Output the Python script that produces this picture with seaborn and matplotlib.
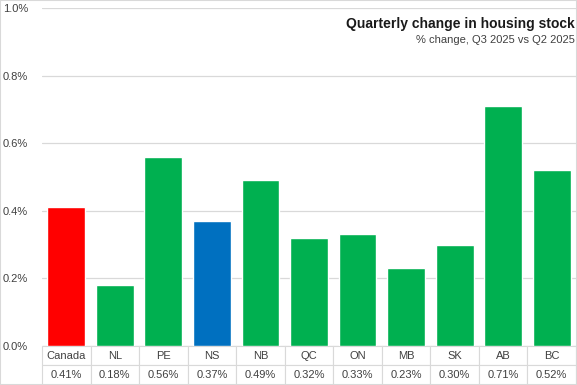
import matplotlib
matplotlib.use("Agg")
import matplotlib.pyplot as plt
import pandas as pd
import seaborn as sns
from matplotlib.patches import Rectangle
from matplotlib.ticker import FuncFormatter

REGIONS = ["Canada", "NL", "PE", "NS", "NB", "QC", "ON", "MB", "SK", "AB", "BC"]
CHANGE = [0.41, 0.18, 0.56, 0.37, 0.49, 0.32, 0.33, 0.23, 0.30, 0.71, 0.52]
VALUE_LABELS = ["0.41%", "0.18%", "0.56%", "0.37%", "0.49%", "0.32%",
                "0.33%", "0.23%", "0.30%", "0.71%", "0.52%"]
Y_TICKS = [0.0, 0.2, 0.4, 0.6, 0.8, 1.0]

GREEN = "#00B050"
HIGHLIGHT = {"Canada": "#FF0000", "NS": "#0070C0"}
GRID = "#D9D9D9"


def main() -> None:
    sns.set_theme(style="white")
    plt.rcParams["font.family"] = ["Liberation Sans", "DejaVu Sans"]

    df = pd.DataFrame({"region": REGIONS, "change": CHANGE})
    palette = {r: HIGHLIGHT.get(r, GREEN) for r in REGIONS}

    fig = plt.figure(figsize=(5.77, 3.85), dpi=100)
    ax = fig.add_axes([0.0728, 0.1013, 0.9255, 0.8777])

    sns.barplot(data=df, x="region", y="change", hue="region", palette=palette,
                width=0.78, saturation=1, legend=False, ax=ax)

    ax.set_ylim(0, 1.0)
    ax.set_xlim(-0.5, len(REGIONS) - 0.5)
    ax.set_yticks(Y_TICKS)
    ax.yaxis.set_major_formatter(FuncFormatter(lambda v, _: f"{v:.1f}%"))
    ax.tick_params(axis="y", length=0, labelsize=8, colors="#404040", pad=10)
    ax.set_xticks([])
    ax.set_xlabel("")
    ax.set_ylabel("")
    ax.yaxis.grid(True, color=GRID, linewidth=0.9)
    ax.set_axisbelow(True)
    for spine in ax.spines.values():
        spine.set_visible(False)

    # data table under the bars
    table = ax.table(cellText=[REGIONS, VALUE_LABELS], cellLoc="center",
                     bbox=[0, -0.1154, 1, 0.1154])
    table.auto_set_font_size(False)
    for cell in table.get_celld().values():
        cell.set_edgecolor(GRID)
        cell.set_linewidth(0.8)
        cell.get_text().set_fontsize(8)
        cell.get_text().set_color("#404040")

    ax.text(0.997, 0.975, "Quarterly change in housing stock", transform=ax.transAxes,
            ha="right", va="top", fontsize=10, fontweight="bold", color="#1a1a1a")
    ax.text(0.997, 0.92, "% change, Q3 2025 vs Q2 2025", transform=ax.transAxes,
            ha="right", va="top", fontsize=8, color="#404040")

    fig.patches.append(Rectangle((0, 0), 1, 1, transform=fig.transFigure, fill=False,
                                 edgecolor=GRID, linewidth=1.5))

    fig.savefig("out.png", dpi=100)
    plt.close(fig)


if __name__ == "__main__":
    main()
